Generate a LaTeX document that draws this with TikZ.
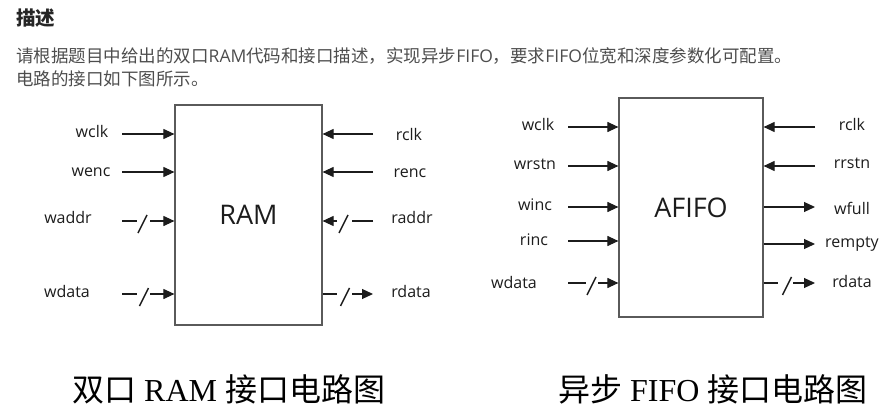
\documentclass[tikz,border=0pt]{standalone}
\usepackage{fontspec}
\usetikzlibrary{arrows.meta}
\setmainfont{Liberation Serif}
\newfontfamily\cjk{Noto Sans CJK SC}
\newfontfamily\lblfont{Open Sans}
\definecolor{wirecol}{HTML}{1C1C1C}
\definecolor{boxcol}{HTML}{5A5A5A}
\definecolor{desccol}{HTML}{4D4D4D}
\newcommand{\busmark}[1]{\draw[slash] ([shift={(-4.5pt,-11pt)}]#1) -- ([shift={(4.5pt,7pt)}]#1);}
\newcommand{\lat}[1]{{\lblfont #1}}

\begin{document}
\begin{tikzpicture}[x=1pt,y=-1pt,
    wire/.style={draw=wirecol, line width=1.1pt},
    port/.style={wire, -{Triangle[length=11pt,width=10pt]}},
    slash/.style={draw=wirecol, line width=1.5pt},
    blk/.style={draw=boxcol, line width=1.2pt, fill=white, inner sep=0pt,
      font=\lblfont\fontsize{27}{27}\selectfont, text=wirecol},
    lbl/.style={anchor=base, font=\lblfont\fontsize{16}{16}\selectfont, text=wirecol, inner sep=0pt},
    desc/.style={anchor=base west, inner sep=0pt, font=\cjk\fontsize{17.5}{17.5}\selectfont, text=desccol}]
    \useasboundingbox (0,0) rectangle (886,409);

    % heading and description
    \node[anchor=base west, inner sep=0pt, font=\cjk\bfseries\fontsize{19.5}{19.5}\selectfont, text=black!85] (title) at (16,26) {描述};
    \node[desc] (desc1) at (16,63) {请根据题目中给出的双口\lat{RAM}代码和接口描述，实现异步\lat{FIFO}，要求\lat{FIFO}位宽和深度参数化可配置。};
    \node[desc] (desc2) at (16,86) {电路的接口如下图所示。};

    % dual port RAM
    \node[blk, minimum width=147pt, minimum height=220pt] (ram) at (248.5,215) {RAM};
    \foreach \n/\y/\cx/\bl in {wclk/134/92/138, wenc/172/91/176} {
      \node[lbl] (ram-\n) at (\cx,\bl) {\n};
      \coordinate (ram-\n-s) at (122,\y);
      \draw[port] (ram-\n-s) -- (ram-\n-s -| ram.west);
    }
    \foreach \n/\y/\cx/\bl in {rclk/134/409/141, renc/172/410/177} {
      \node[lbl] (ram-\n) at (\cx,\bl) {\n};
      \coordinate (ram-\n-s) at (373,\y);
      \draw[port] (ram-\n-s) -- (ram-\n-s -| ram.east);
    }
    % bus ports
    \node[lbl] (ram-waddr) at (68,223) {waddr};
    \coordinate (ram-waddr-s) at (122,221);
    \coordinate (ram-waddr-a) at (137,221);
    \coordinate (ram-waddr-b) at (150,221);
    \draw[wire] (ram-waddr-s) -- (ram-waddr-a);
    \busmark{142.5,222}
    \draw[port] (ram-waddr-b) -- (ram-waddr-b -| ram.west);

    \node[lbl] (ram-wdata) at (67,297) {wdata};
    \coordinate (ram-wdata-s) at (122,294);
    \coordinate (ram-wdata-a) at (137,294);
    \coordinate (ram-wdata-b) at (150,294);
    \draw[wire] (ram-wdata-s) -- (ram-wdata-a);
    \busmark{144,295}
    \draw[port] (ram-wdata-b) -- (ram-wdata-b -| ram.west);

    \node[lbl] (ram-raddr) at (412,223) {raddr};
    \coordinate (ram-raddr-s) at (373,221);
    \coordinate (ram-raddr-a) at (352,221);
    \coordinate (ram-raddr-b) at (337,221);
    \draw[wire] (ram-raddr-s) -- (ram-raddr-a);
    \busmark{343.5,222}
    \draw[port] (ram-raddr-b) -- (ram-raddr-b -| ram.east);

    \node[lbl] (ram-rdata) at (411,297) {rdata};
    \coordinate (ram-rdata-a) at (337,294);
    \coordinate (ram-rdata-b) at (352,294);
    \coordinate (ram-rdata-e) at (373,294);
    \draw[wire] (ram-rdata-a -| ram.east) -- (ram-rdata-a);
    \busmark{345,295}
    \draw[port] (ram-rdata-b) -- (ram-rdata-e);

    % async FIFO
    \node[blk, minimum width=144pt, minimum height=219pt] (fifo) at (691,207.5) {AFIFO};
    \foreach \n/\y/\cx/\bl in {wclk/127/538/131, wrstn/166/535/169, winc/207/535/210, rinc/241/534/245} {
      \node[lbl] (fifo-\n) at (\cx,\bl) {\n};
      \coordinate (fifo-\n-s) at (568,\y);
      \draw[port] (fifo-\n-s) -- (fifo-\n-s -| fifo.west);
    }
    \foreach \n/\y/\bl in {rclk/127/131, rrstn/166/168} {
      \node[lbl] (fifo-\n) at (852,\bl) {\n};
      \coordinate (fifo-\n-s) at (815,\y);
      \draw[port] (fifo-\n-s) -- (fifo-\n-s -| fifo.east);
    }
    \foreach \n/\y/\bl in {wfull/207/214, rempty/244/247} {
      \node[lbl] (fifo-\n) at (852,\bl) {\n};
      \coordinate (fifo-\n-e) at (815,\y);
      \draw[port] (fifo-\n-e -| fifo.east) -- (fifo-\n-e);
    }
    \node[lbl] (fifo-wdata) at (514,288) {wdata};
    \coordinate (fifo-wdata-s) at (568,283);
    \coordinate (fifo-wdata-a) at (586,283);
    \coordinate (fifo-wdata-b) at (598,283);
    \draw[wire] (fifo-wdata-s) -- (fifo-wdata-a);
    \busmark{591.5,284}
    \draw[port] (fifo-wdata-b) -- (fifo-wdata-b -| fifo.west);

    \node[lbl] (fifo-rdata) at (852,287) {rdata};
    \coordinate (fifo-rdata-a) at (778,283);
    \coordinate (fifo-rdata-b) at (793,283);
    \coordinate (fifo-rdata-e) at (815,283);
    \draw[wire] (fifo-rdata-a -| fifo.east) -- (fifo-rdata-a);
    \busmark{787,284}
    \draw[port] (fifo-rdata-b) -- (fifo-rdata-e);

    % captions
    \node[anchor=base west, inner sep=0pt, font=\fontsize{32}{32}\selectfont] (cap-ram) at (72,401) {{\cjk 双口} RAM {\cjk 接口电路图}};
    \node[anchor=base west, inner sep=0pt, font=\fontsize{32}{32}\selectfont] (cap-fifo) at (558,401) {{\cjk 异步} FIFO {\cjk 接口电路图}};
\end{tikzpicture}
\end{document}
